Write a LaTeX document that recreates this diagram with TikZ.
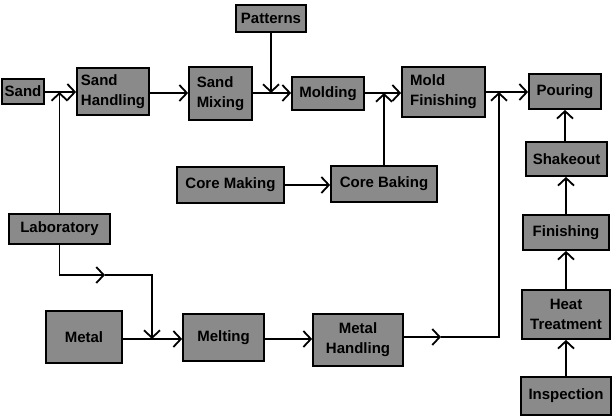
\documentclass[tikz,border=0pt]{standalone}
\usepackage{fontspec}
\setmainfont{Liberation Sans}
\usetikzlibrary{arrows.meta}
\definecolor{boxgray}{RGB}{138,138,138}
\begin{document}
\begin{tikzpicture}[x=1pt,y=-1pt,
  box/.style={draw=black, line width=1.8pt, fill=boxgray, inner sep=0pt, font=\fontsize{15}{20}\selectfont\bfseries},
  conn/.style={line width=1.7pt, draw=black},
  tip/.style={-{Straight Barb[length=7.5pt,width=16pt,line width=1.8pt]}}]
\useasboundingbox (0,0) rectangle (615,418);
\node[box, minimum width=42pt, minimum height=25pt] (sand) at (23,91.5) {Sand};
\node[box, minimum width=72pt, minimum height=47pt, align=left] (sandh) at (113,91.5) {Sand\\Handling};
\node[box, minimum width=63pt, minimum height=53pt, align=left] (sandm) at (220.5,93.5) {Sand\\Mixing};
\node[box, minimum width=70pt, minimum height=27pt] (pat) at (271,18.5) {Patterns};
\node[box, minimum width=72pt, minimum height=33pt] (mold) at (328,93.5) {Molding};
\node[box, minimum width=83pt, minimum height=50pt, align=left] (moldf) at (443.5,92) {Mold\\Finishing};
\node[box, minimum width=72pt, minimum height=35pt] (pour) at (565,91.5) {Pouring};
\node[box, minimum width=81pt, minimum height=34pt] (shake) at (566.5,159) {Shakeout};
\node[box, minimum width=107pt, minimum height=36pt] (corem) at (230.5,185) {Core Making};
\node[box, minimum width=106pt, minimum height=36pt] (coreb) at (384,184) {Core Baking};
\node[box, minimum width=101pt, minimum height=30pt] (lab) at (59.5,229) {Laboratory};
\node[box, minimum width=76pt, minimum height=52pt] (metal) at (84,337) {Metal};
\node[box, minimum width=81pt, minimum height=47pt] (melt) at (223.5,337.5) {Melting};
\node[box, minimum width=90pt, minimum height=52pt, align=center] (metalh) at (358,340) {Metal\\Handling};
\node[box, minimum width=86pt, minimum height=35pt] (fin) at (566,232.5) {Finishing};
\node[box, minimum width=88pt, minimum height=49pt, align=center] (heat) at (566,314.5) {Heat\\Treatment};
\node[box, minimum width=90pt, minimum height=38pt] (insp) at (566,396) {Inspection};
% junctions
\coordinate (j1) at (59.5,92);
\coordinate (j2) at (271,93);
\coordinate (j3) at (384,93);
\coordinate (j4) at (499,92);
\coordinate (l1) at (59.5,275);
\coordinate (l2) at (105,275);
\coordinate (l3) at (152,275);
\coordinate (l4) at (152,339);
\coordinate (m1) at (441,337);
\coordinate (m2) at (499,337);
% main row
\draw[conn,tip] (sand.east |- j1) -- (sandh.west |- j1);
\draw[conn,tip] (lab.north) -- (j1);
\draw[conn,tip] (sandh.east |- j2) -- (sandm.west |- j2);
\draw[conn,tip] (sandm.east |- j2) -- (mold.west |- j2);
\draw[conn,tip] (pat.south) -- (j2);
\draw[conn,tip] (mold.east |- j3) -- (moldf.west |- j3);
\draw[conn,tip] (coreb.north) -- (j3);
\draw[conn,tip] (moldf.east |- j4) -- (pour.west |- j4);
\draw[conn,tip] (corem.east) -- (coreb.west |- corem.east);
% right column
\draw[conn,tip] (shake.north -| pour.south) -- (pour.south);
\draw[conn,tip] (fin.north) -- (fin.north |- shake.south);
\draw[conn,tip] (heat.north) -- (fin.south);
\draw[conn,tip] (insp.north) -- (heat.south);
% laboratory to melting
\draw[conn,tip] (lab.south) -- (l1) -- (l2);
\draw[conn,tip] (l2) -- (l3) -- (l4);
% metal row
\draw[conn,tip] (metal.east |- l4) -- (melt.west |- l4);
\draw[conn,tip] (melt.east |- l4) -- (metalh.west |- l4);
\draw[conn,tip] (metalh.east |- m1) -- (m1);
\draw[conn,tip] (m1) -- (m2) -- (j4);
\end{tikzpicture}
\end{document}
